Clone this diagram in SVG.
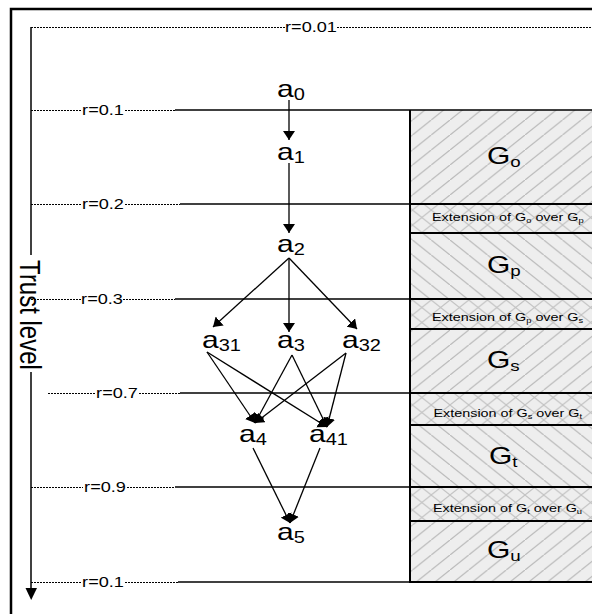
<svg xmlns="http://www.w3.org/2000/svg" width="592" height="614" viewBox="0 0 592 614">
<defs>
<pattern id="hf" patternUnits="userSpaceOnUse" width="18.75" height="15">
<rect width="18.75" height="15" fill="#eeeeee"/>
<line x1="-1.25" y1="16" x2="20" y2="-1" stroke="#bababa" stroke-width="1.2"/>
</pattern>
<pattern id="hb" patternUnits="userSpaceOnUse" width="18.75" height="15">
<rect width="18.75" height="15" fill="#eeeeee"/>
<line x1="-1.25" y1="-1" x2="20" y2="16" stroke="#bababa" stroke-width="1.2"/>
</pattern>
<pattern id="hx" patternUnits="userSpaceOnUse" width="18.75" height="15">
<rect width="18.75" height="15" fill="#eeeeee"/>
<line x1="-1.25" y1="16" x2="20" y2="-1" stroke="#c2c2c2" stroke-width="1.1"/>
<line x1="-1.25" y1="-1" x2="20" y2="16" stroke="#c2c2c2" stroke-width="1.1"/>
</pattern>
<marker id="ah" viewBox="0 0 9 12" refX="9" refY="6" markerWidth="9" markerHeight="12" markerUnits="userSpaceOnUse" orient="auto">
<path d="M0,0 L9,6 L0,12 z" fill="#000"/>
</marker>
</defs>
<style>
text{font-family:"Liberation Sans",Arial,sans-serif;fill:#000}
.dot{stroke:#000;stroke-width:1;stroke-dasharray:2 1;fill:none}
.sol{stroke:#000;stroke-width:1.5;fill:none}
.pl{stroke:#000;stroke-width:2;fill:none}
.lbl{font-size:14.5px}
.node{font-size:24px}
.sub{font-size:16px}
.g{font-size:24px}
.gs{font-size:15px}
.ext{font-size:11.5px}
.exs{font-size:7.5px}
.con{stroke:#000;stroke-width:1.3;fill:none;marker-end:url(#ah)}
</style>
<rect x="0" y="0" width="592" height="614" fill="#fff"/>
<rect x="11" y="9" width="620" height="640" fill="none" stroke="#000" stroke-width="2.5"/>

<g id="panel">
<rect x="410" y="110" width="182" height="94" fill="url(#hf)"/>
<rect x="410" y="204" width="182" height="29" fill="url(#hx)"/>
<rect x="410" y="233" width="182" height="66" fill="url(#hb)"/>
<rect x="410" y="299" width="182" height="30" fill="url(#hx)"/>
<rect x="410" y="329" width="182" height="64" fill="url(#hf)"/>
<rect x="410" y="393" width="182" height="32" fill="url(#hx)"/>
<rect x="410" y="425" width="182" height="62" fill="url(#hb)"/>
<rect x="410" y="487" width="182" height="34" fill="url(#hx)"/>
<rect x="410" y="521" width="182" height="61" fill="url(#hf)"/>
<line class="pl" x1="410" y1="110" x2="410" y2="583"/>
<line class="pl" x1="410" y1="233" x2="592" y2="233"/>
<line class="pl" x1="410" y1="329" x2="592" y2="329"/>
<line class="pl" x1="410" y1="425" x2="592" y2="425"/>
<line class="pl" x1="410" y1="521" x2="592" y2="521"/>
<line class="pl" x1="410" y1="204" x2="592" y2="204"/>
<line class="pl" x1="410" y1="299" x2="592" y2="299"/>
<line class="pl" x1="410" y1="393" x2="592" y2="393"/>
<line class="pl" x1="410" y1="487" x2="592" y2="487"/>
<line class="pl" x1="410" y1="582" x2="592" y2="582"/>
<text class="g" transform="translate(487,164) scale(1.25,1)">G<tspan class="gs" dy="3">o</tspan></text>
<text class="g" transform="translate(487,273) scale(1.25,1)">G<tspan class="gs" dy="3">p</tspan></text>
<text class="g" transform="translate(487,368) scale(1.25,1)">G<tspan class="gs" dy="3">s</tspan></text>
<text class="g" transform="translate(489,464) scale(1.25,1)">G<tspan class="gs" dy="3">t</tspan></text>
<text class="g" transform="translate(487,558) scale(1.25,1)">G<tspan class="gs" dy="3">u</tspan></text>
<text class="ext" transform="translate(432,221) scale(1.25,1)">Extension of G<tspan class="exs" dy="2">o</tspan><tspan dy="-2"> over G</tspan><tspan class="exs" dy="2">p</tspan></text>
<text class="ext" transform="translate(432,321) scale(1.25,1)">Extension of G<tspan class="exs" dy="2">p</tspan><tspan dy="-2"> over G</tspan><tspan class="exs" dy="2">s</tspan></text>
<text class="ext" transform="translate(433.5,417) scale(1.25,1)">Extension of G<tspan class="exs" dy="2">s</tspan><tspan dy="-2"> over G</tspan><tspan class="exs" dy="2">t</tspan></text>
<text class="ext" transform="translate(433,512) scale(1.25,1)">Extension of G<tspan class="exs" dy="2">t</tspan><tspan dy="-2"> over G</tspan><tspan class="exs" dy="2">u</tspan></text>
</g>

<g id="axis">
<line class="sol" x1="31" y1="27" x2="31" y2="255"/>
<line class="sol" x1="31" y1="372" x2="31" y2="590"/>
<path d="M25.5,588 L37,588 L31.2,600 z" fill="#000"/>
<text style="font-size:24px" text-anchor="middle" transform="translate(31,315) scale(1.25,1) rotate(90)" y="8.5">Trust level</text>
</g>

<g id="levels">
<line class="dot" x1="31" y1="27.5" x2="285" y2="27.5"/>
<line class="dot" x1="337" y1="27.5" x2="592" y2="27.5"/>
<text class="lbl" text-anchor="middle" transform="translate(311,32) scale(1.25,1)">r=0.01</text>

<line class="dot" x1="31" y1="110.5" x2="81" y2="110.5"/>
<line class="dot" x1="125" y1="110.5" x2="175" y2="110.5"/>
<line class="sol" x1="175" y1="110" x2="592" y2="110"/>
<text class="lbl" text-anchor="middle" transform="translate(103,115) scale(1.25,1)">r=0.1</text>

<line class="dot" x1="31" y1="204.5" x2="81" y2="204.5"/>
<line class="dot" x1="125" y1="204.5" x2="180" y2="204.5"/>
<line class="sol" x1="180" y1="204" x2="410" y2="204"/>
<text class="lbl" text-anchor="middle" transform="translate(103,209) scale(1.25,1)">r=0.2</text>

<line class="dot" x1="31" y1="299.5" x2="81" y2="299.5"/>
<line class="dot" x1="123" y1="299.5" x2="175" y2="299.5"/>
<line class="sol" x1="175" y1="299" x2="410" y2="299"/>
<text class="lbl" text-anchor="middle" transform="translate(102,304) scale(1.25,1)">r=0.3</text>

<line class="dot" x1="48" y1="393.5" x2="96" y2="393.5"/>
<line class="dot" x1="139" y1="393.5" x2="180" y2="393.5"/>
<line class="sol" x1="180" y1="393" x2="410" y2="393"/>
<text class="lbl" text-anchor="middle" transform="translate(117,398) scale(1.25,1)">r=0.7</text>

<line class="dot" x1="31" y1="487.5" x2="83" y2="487.5"/>
<line class="dot" x1="127" y1="487.5" x2="175" y2="487.5"/>
<line class="sol" x1="175" y1="487" x2="410" y2="487"/>
<text class="lbl" text-anchor="middle" transform="translate(105,492) scale(1.25,1)">r=0.9</text>

<line class="dot" x1="31" y1="582.5" x2="81" y2="582.5"/>
<line class="dot" x1="125" y1="582.5" x2="178" y2="582.5"/>
<line class="sol" x1="178" y1="582" x2="410" y2="582"/>
<text class="lbl" text-anchor="middle" transform="translate(103,587) scale(1.25,1)">r=0.1</text>
</g>

<g id="connectors">
<line class="con" x1="289" y1="100" x2="289" y2="140"/>
<line class="con" x1="289" y1="163" x2="289" y2="233"/>
<line class="con" x1="289" y1="258" x2="213" y2="327"/>
<line class="con" x1="289" y1="258" x2="289" y2="332"/>
<line class="con" x1="289" y1="258" x2="357" y2="329"/>
<line class="con" x1="207" y1="352" x2="255" y2="423"/>
<line class="con" x1="207" y1="352" x2="327" y2="427"/>
<line class="con" x1="292" y1="355" x2="255" y2="423"/>
<line class="con" x1="292" y1="355" x2="327" y2="427"/>
<line class="con" x1="346" y1="353" x2="255" y2="423"/>
<line class="con" x1="346" y1="353" x2="327" y2="427"/>
<line class="con" x1="253" y1="448" x2="290" y2="523"/>
<line class="con" x1="320" y1="448" x2="290" y2="523"/>
</g>

<g id="a0"><text class="node" transform="translate(277,97) scale(1.25,1)">a<tspan class="sub" dy="3">0</tspan></text></g>
<g id="a1"><text class="node" transform="translate(277,160) scale(1.25,1)">a<tspan class="sub" dy="3">1</tspan></text></g>
<g id="a2"><text class="node" transform="translate(277,252) scale(1.25,1)">a<tspan class="sub" dy="3">2</tspan></text></g>
<g id="a31"><text class="node" transform="translate(202,348) scale(1.25,1)">a<tspan class="sub" dy="3">31</tspan></text></g>
<g id="a3"><text class="node" transform="translate(277,348) scale(1.25,1)">a<tspan class="sub" dy="3">3</tspan></text></g>
<g id="a32"><text class="node" transform="translate(342,348) scale(1.25,1)">a<tspan class="sub" dy="3">32</tspan></text></g>
<g id="a4"><text class="node" transform="translate(239,442) scale(1.25,1)">a<tspan class="sub" dy="3">4</tspan></text></g>
<g id="a41"><text class="node" transform="translate(309,442) scale(1.25,1)">a<tspan class="sub" dy="3">41</tspan></text></g>
<g id="a5"><text class="node" transform="translate(277,540) scale(1.25,1)">a<tspan class="sub" dy="3">5</tspan></text></g>
</svg>
